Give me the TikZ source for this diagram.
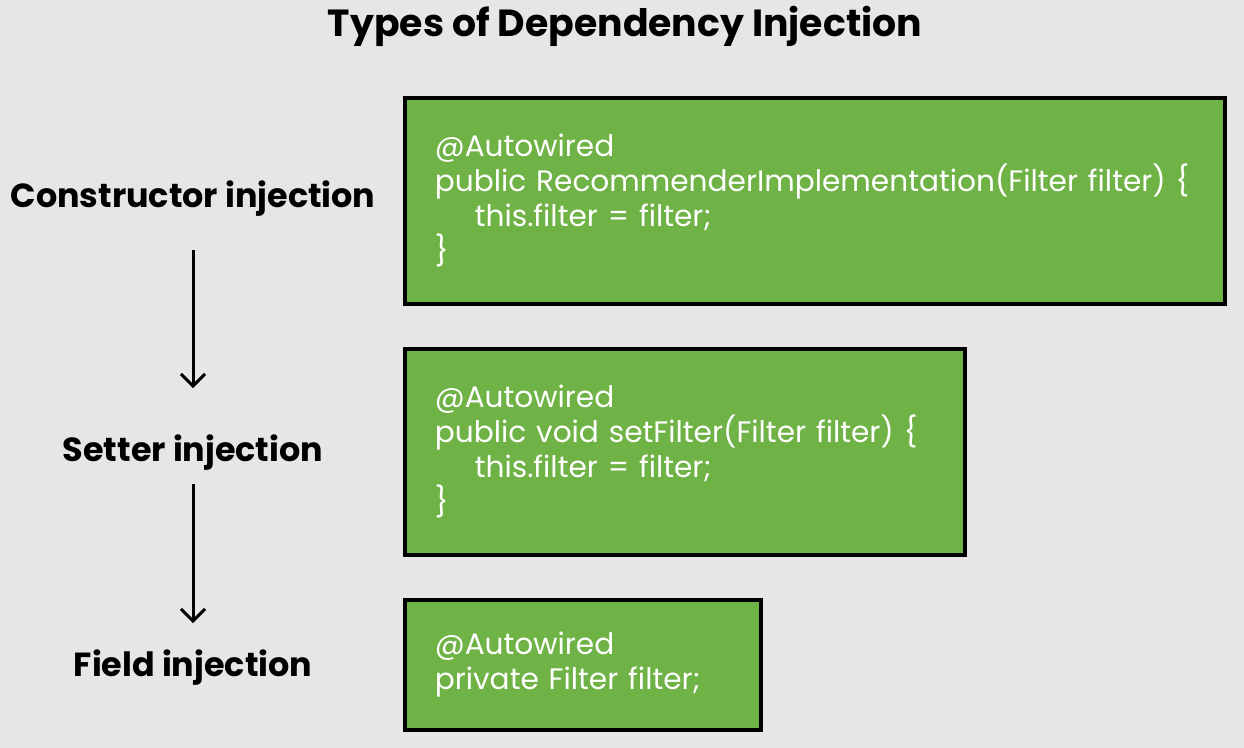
\documentclass[tikz,border=0pt]{standalone}
\usepackage{fontspec}
\setmainfont{Poppins}
\usetikzlibrary{arrows.meta, positioning}

\definecolor{bggray}{HTML}{E6E6E6}
\definecolor{codegreen}{HTML}{6FB245}

\begin{document}
\begin{tikzpicture}[
    x=0.5pt, y=-0.5pt,
    codebox/.style={rectangle, draw=black, line width=1.8pt, fill=codegreen,
                    anchor=north west, inner xsep=15pt, inner ysep=0pt,
                    align=left, text=white,
                    font=\fontsize{14.8pt}{17.5pt}\selectfont},
    kind/.style={font=\fontsize{16.7pt}{19pt}\selectfont\bfseries},
    arrow/.style={-{Straight Barb[length=6pt, width=12pt]}, line width=1.5pt},
]

% background and page size
\fill[bggray] (0,0) rectangle (1244,748);
\useasboundingbox (0,0) rectangle (1244,748);

% title
\node[font=\fontsize{18.9pt}{22pt}\selectfont\bfseries] (title) at (625,26) {Types of Dependency Injection};

% code boxes
\node[codebox, minimum width=410pt, minimum height=103pt, text width=380pt] (ctorcode) at (403,96)
    {@Autowired\\public RecommenderImplementation(Filter filter) \{\\\hspace*{20pt}this.filter = filter;\\\}};
\node[codebox, minimum width=280pt, minimum height=103pt, text width=250pt] (settercode) at (403,347)
    {@Autowired\\public void setFilter(Filter filter) \{\\\hspace*{20pt}this.filter = filter;\\\}};
\node[codebox, minimum width=178pt, minimum height=65pt, text width=148pt] (fieldcode) at (403,598)
    {@Autowired\\private Filter filter;};

% injection kinds
\node[kind] (ctor) at (193,199) {Constructor injection};
\node[kind] (setter) at (193,453) {Setter injection};
\node[kind] (field) at (193,668) {Field injection};

% arrows
\draw[arrow, shorten <=13pt, shorten >=20pt] (ctor) -- (setter);
\draw[arrow, shorten <=3pt, shorten >=10pt] (setter) -- (field);

\end{tikzpicture}
\end{document}
